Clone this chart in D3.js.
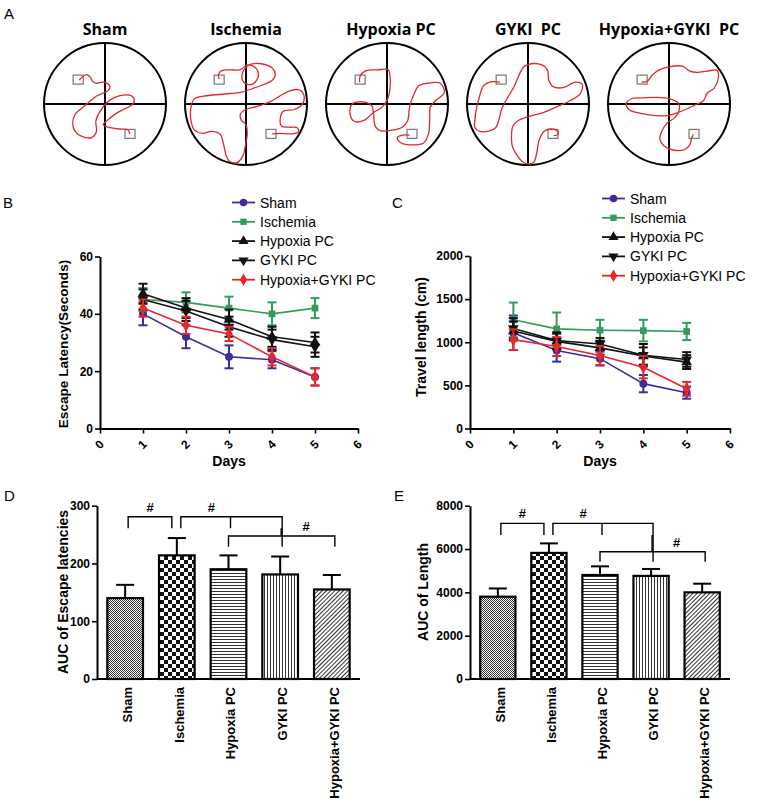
<!DOCTYPE html>
<html><head><meta charset="utf-8">
<script src="https://cdn.jsdelivr.net/npm/d3@7"></script>
<style>
body{margin:0;background:#fff}
text{font-family:"Liberation Sans",Arial,sans-serif;fill:#000}
</style>
</head><body><svg id="c" width="769" height="804"></svg>
<script>
// ---------------- DATA ----------------
const groups = ["Sham","Ischemia","Hypoxia PC","GYKI PC","Hypoxia+GYKI PC"];
const trackTitles = ["Sham","Ischemia","Hypoxia PC","GYKI  PC","Hypoxia+GYKI  PC"];
const days = [1,2,3,4,5];
const dayTicks = [0,1,2,3,4,5,6];
const latencyTicks = [0,20,40,60];
const lengthTicks = [0,500,1000,1500,2000];
const aucLatencyTicks = [0,100,200,300];
const aucLengthTicks = [0,2000,4000,6000,8000];

// Escape latency (s), mean per day, one row per group
const latencyMean = [
  [40,32,25,24,18],
  [45,44,42,40,42],
  [47,42,38,32,30],
  [45,41,35.5,31,28.5],
  [42,36,33,25,18]
];
const latencySem = [
  [4,4,4,3,3],
  [4,3.5,4,4,3.5],
  [3.5,3.5,3.5,3.5,3.5],
  [3.5,3.5,3.5,3.5,3.5],
  [3,3,2.5,3,3]
];
// Travel length (cm)
const lengthMean = [
  [1110,905,810,520,415],
  [1260,1155,1140,1135,1125],
  [1130,1010,935,840,770],
  [1160,1020,980,850,800],
  [1030,950,846,711,460]
];
const lengthSem = [
  [200,130,80,100,70],
  [200,190,120,125,100],
  [110,90,80,100,80],
  [120,95,70,130,85],
  [120,110,110,130,80]
];
// AUC bars
const aucLatency = [140,214,190,181,155];
const aucLatencySem = [23,30,24,31,25];
const aucLength = [3800,5820,4800,4760,4000];
const aucLengthSem = [380,440,400,320,400];
// significance brackets: [from, to, middle tick or -1]
const aucBrackets = [[0,1,-1],[1,3,2],[2,4,3]];
const latencyBracketLevels = [281,281,247.5];
const latencyBracketEnds = [261,261,229];
const lengthBracketLevels = [7185,7185,5877];
const lengthBracketEnds = [6646,6646,5415];

// Water maze swim paths (normalized pool coordinates, radius = 1)
const platformA = [-0.44,-0.40];
const platformB = [0.41,0.49];
const trackSham = [[-0.42,-0.39],[-0.38,-0.44],[-0.30,-0.48],[-0.25,-0.45],[-0.20,-0.37],[-0.14,-0.34],[-0.03,-0.36],[0.05,-0.33],[0.08,-0.29],[0.05,-0.22],[-0.03,-0.18],[-0.14,-0.13],[-0.25,-0.04],[-0.38,0.07],[-0.49,0.17],[-0.53,0.31],[-0.49,0.45],[-0.38,0.53],[-0.22,0.55],[-0.14,0.45],[-0.15,0.28],[-0.08,0.12],[0.03,-0.02],[0.16,-0.11],[0.33,-0.15],[0.44,-0.13],[0.48,-0.04],[0.42,0.03],[0.30,0.09],[0.16,0.17],[0.05,0.26],[-0.03,0.34],[0.05,0.38],[0.25,0.41],[0.37,0.42],[0.41,0.49]];
const trackIschemia = [[-0.44,-0.41],[-0.45,-0.49],[-0.39,-0.55],[-0.26,-0.56],[-0.10,-0.56],[0.03,-0.64],[0.17,-0.58],[0.20,-0.45],[0.10,-0.32],[-0.04,-0.36],[-0.06,-0.50],[0.05,-0.64],[0.25,-0.66],[0.43,-0.59],[0.48,-0.48],[0.43,-0.39],[0.29,-0.32],[0.10,-0.25],[-0.09,-0.19],[-0.39,-0.16],[-0.69,-0.13],[-0.85,-0.08],[-0.90,0.04],[-0.90,0.28],[-0.85,0.42],[-0.72,0.48],[-0.56,0.45],[-0.42,0.50],[-0.37,0.65],[-0.33,0.83],[-0.27,0.94],[-0.15,0.96],[-0.05,0.85],[-0.01,0.68],[0.02,0.49],[0,0.34],[-0.08,0.26],[-0.09,0.16],[-0.01,0.09],[0.18,0.04],[0.40,-0.04],[0.57,-0.14],[0.73,-0.22],[0.88,-0.23],[0.95,-0.14],[0.92,0.01],[0.79,0.09],[0.61,0.12],[0.56,0.25],[0.58,0.36],[0.70,0.38],[0.84,0.39],[0.86,0.46],[0.73,0.49],[0.56,0.48],[0.43,0.49]];
const trackHypoxia = [[-0.45,-0.36],[-0.44,-0.46],[-0.36,-0.54],[-0.16,-0.56],[0.02,-0.56],[0.05,-0.46],[0.05,-0.27],[0.01,-0.08],[-0.08,0.05],[-0.22,0.14],[-0.38,0.27],[-0.55,0.28],[-0.61,0.12],[-0.56,-0.01],[-0.36,-0.03],[-0.25,0.03],[-0.22,0.17],[-0.19,0.37],[-0.10,0.44],[0.08,0.43],[0.25,0.38],[0.34,0.27],[0.37,0.05],[0.44,-0.16],[0.52,-0.30],[0.66,-0.34],[0.87,-0.34],[0.94,-0.19],[0.79,-0.05],[0.71,0.05],[0.70,0.27],[0.68,0.49],[0.60,0.64],[0.38,0.67],[0.22,0.63],[0.17,0.55],[0.26,0.51],[0.37,0.51]];
const trackGyki = [[-0.46,-0.36],[-0.63,-0.36],[-0.73,-0.30],[-0.79,-0.14],[-0.84,0.05],[-0.87,0.25],[-0.87,0.39],[-0.79,0.45],[-0.63,0.44],[-0.53,0.39],[-0.48,0.27],[-0.43,0.08],[-0.33,-0.11],[-0.22,-0.30],[-0.14,-0.49],[-0.07,-0.61],[0.05,-0.66],[0.23,-0.64],[0.32,-0.56],[0.34,-0.39],[0.42,-0.28],[0.58,-0.27],[0.78,-0.36],[0.89,-0.32],[0.85,-0.16],[0.68,-0.05],[0.46,0.05],[0.25,0.14],[0,0.21],[-0.16,0.27],[-0.25,0.37],[-0.27,0.52],[-0.26,0.68],[-0.20,0.81],[-0.11,0.93],[-0.02,0.98],[0.09,0.96],[0.14,0.82],[0.18,0.60],[0.26,0.45],[0.37,0.41],[0.48,0.44],[0.49,0.50],[0.42,0.52]];
const trackHypoxiaGyki = [[-0.45,-0.36],[-0.36,-0.37],[-0.27,-0.48],[-0.16,-0.56],[0,-0.61],[0.22,-0.62],[0.34,-0.54],[0.46,-0.52],[0.63,-0.54],[0.79,-0.55],[0.81,-0.43],[0.74,-0.26],[0.63,-0.18],[0.56,-0.05],[0.44,0.01],[0.27,0.09],[0.12,0.15],[-0.03,0.19],[-0.22,0.19],[-0.48,0.15],[-0.66,0.09],[-0.70,-0.01],[-0.61,-0.09],[-0.45,-0.10],[-0.22,-0.11],[0,-0.09],[0.15,-0.02],[0.17,0.09],[0.10,0.22],[-0.03,0.31],[-0.12,0.45],[-0.15,0.58],[-0.08,0.69],[0.05,0.75],[0.25,0.75],[0.34,0.67],[0.37,0.56],[0.40,0.50]];
const tracks = [trackSham,trackIschemia,trackHypoxia,trackGyki,trackHypoxiaGyki];

// ---------------- STYLE ----------------
const seriesColors = ["#3a2e98","#339c5c","#111111","#111111","#e8262d"];
const seriesSymbols = [d3.symbolCircle,d3.symbolSquare,d3.symbolTriangle,d3.symbolTriangle,d3.symbolDiamond];
const seriesRotate = [0,0,0,180,0];
const fmt = d3.format("d");

const svg = d3.select("#c");
svg.append("rect").attr("width",769).attr("height",804).attr("fill","#fff");

function letter(t,x,y){
  svg.append("text").attr("x",x).attr("y",y).attr("font-size",15).text(t);
}
letter("A",4,19); letter("B",3,208); letter("C",392,208); letter("D",4,501); letter("E",394,501);

// ---------------- PANEL A ----------------
const centerX = d3.scalePoint().domain(groups).range([105,669]);
const poolR = 61, poolCy = 104;
groups.forEach((g,i)=>{
  const cx = centerX(g);
  const sx = d3.scaleLinear([-1,1],[cx-poolR,cx+poolR]);
  const sy = d3.scaleLinear([-1,1],[poolCy-poolR,poolCy+poolR]);
  const G = svg.append("g");
  G.append("text").attr("x",cx+ (i===2?4:0)).attr("y",34.5).attr("text-anchor","middle")
    .style("font-family","'Open Sans',sans-serif").attr("font-weight","bold").attr("font-size",16)
    .style("white-space","pre").attr("xml:space","preserve").text(trackTitles[i]);
  G.append("line").attr("x1",sx(-1)).attr("x2",sx(1)).attr("y1",sy(0)).attr("y2",sy(0)).attr("stroke","#000").attr("stroke-width",2);
  G.append("line").attr("x1",sx(0)).attr("x2",sx(0)).attr("y1",sy(-1)).attr("y2",sy(1)).attr("stroke","#000").attr("stroke-width",2);
  G.append("circle").attr("cx",sx(0)).attr("cy",sy(0)).attr("r",poolR).attr("fill","none").attr("stroke","#000").attr("stroke-width",2);
  [platformA,platformB].forEach(p=>{
    G.append("rect").attr("x",sx(p[0])-5).attr("y",sy(p[1])-4.5).attr("width",10).attr("height",9)
      .attr("fill","none").attr("stroke","#777").attr("stroke-width",1.2);
  });
  const line = d3.line().x(d=>sx(d[0])).y(d=>sy(d[1])).curve(d3.curveCatmullRom.alpha(0.5));
  G.append("path").attr("d",line(tracks[i])).attr("fill","none").attr("stroke","#e4262c").attr("stroke-width",1.3);
});

// ---------------- LINE CHARTS ----------------
function styleAxis(g){
  g.select(".domain").attr("stroke","#000").attr("stroke-width",2);
  g.selectAll(".tick line").attr("stroke","#000").attr("stroke-width",1.6);
  g.selectAll(".tick text").attr("font-weight","bold").attr("font-size",12).attr("fill","#000")
    .style("font-family","'Liberation Sans',Arial,sans-serif");
}
function lineChart(o){
  const x = d3.scaleLinear([0,6],o.xr);
  const y = d3.scaleLinear([0,o.ymax],o.yr);
  const ga = svg.append("g").attr("transform",`translate(${o.xr[0]},0)`)
    .call(d3.axisLeft(y).tickValues(o.yticks).tickFormat(fmt).tickSize(5).tickSizeOuter(0).tickPadding(2));
  styleAxis(ga);
  const gb = svg.append("g").attr("transform",`translate(0,${o.yr[0]})`)
    .call(d3.axisBottom(x).tickValues(dayTicks).tickFormat(fmt).tickSize(5).tickSizeOuter(0));
  styleAxis(gb);
  gb.selectAll(".tick text").attr("y",0).attr("dy",0).attr("dominant-baseline","central")
    .attr("text-anchor","middle").attr("transform","translate(-1,16) rotate(-45)");
  svg.append("text").attr("x",(o.xr[0]+o.xr[1])/2).attr("y",o.yr[0]+37).attr("text-anchor","middle")
    .attr("font-weight","bold").attr("font-size",14).text("Days");
  svg.append("text").attr("transform",`translate(${o.labelX},${o.labelY}) rotate(-90)`).attr("text-anchor","middle")
    .attr("font-weight","bold").attr("font-size",o.labelSize).text(o.ylabel);
  const line = d3.line().x((d,j)=>x(days[j])).y(d=>y(d));
  o.means.forEach((m,i)=>{
    const c = seriesColors[i];
    const G = svg.append("g");
    G.append("path").attr("d",line(m)).attr("fill","none").attr("stroke",c).attr("stroke-width",1.6);
    m.forEach((v,j)=>{
      const xx = x(days[j]), s = o.sems[i][j];
      G.append("line").attr("x1",xx).attr("x2",xx).attr("y1",y(v-s)).attr("y2",y(v+s)).attr("stroke",c).attr("stroke-width",2);
      [v-s,v+s].forEach(e=>G.append("line").attr("x1",xx-4.5).attr("x2",xx+4.5).attr("y1",y(e)).attr("y2",y(e)).attr("stroke",c).attr("stroke-width",2));
      G.append("path").attr("d",d3.symbol(seriesSymbols[i],i===1?45:50)())
        .attr("transform",`translate(${xx},${y(v)}) rotate(${seriesRotate[i]})`).attr("fill",c);
    });
  });
  // legend
  groups.forEach((g,i)=>{
    const yy = o.legY + i*19.3;
    const c = seriesColors[i];
    svg.append("line").attr("x1",o.legX).attr("x2",o.legX+23).attr("y1",yy).attr("y2",yy).attr("stroke",c).attr("stroke-width",1.8);
    svg.append("path").attr("d",d3.symbol(seriesSymbols[i],i===1?40:45)())
      .attr("transform",`translate(${o.legX+11.5},${yy}) rotate(${seriesRotate[i]})`).attr("fill",c);
    svg.append("text").attr("x",o.legX+28).attr("y",yy).attr("dy","0.36em").attr("font-size",14).text(g);
  });
}
lineChart({xr:[100,358],yr:[428.5,256.5],ymax:60,yticks:latencyTicks,means:latencyMean,sems:latencySem,
  ylabel:"Escape Latency(Seconds)",labelX:68,labelY:344,labelSize:13.6,legX:232,legY:202.5});
lineChart({xr:[470,730],yr:[428.5,256],ymax:2000,yticks:lengthTicks,means:lengthMean,sems:lengthSem,
  ylabel:"Travel length (cm)",labelX:426,labelY:337,labelSize:14,legX:602,legY:198.5});

// ---------------- BAR CHARTS ----------------
const defs = svg.append("defs");
function pat(id,w,h,draw){
  const p = defs.append("pattern").attr("id",id).attr("patternUnits","userSpaceOnUse").attr("width",w).attr("height",h);
  p.append("rect").attr("width",w).attr("height",h).attr("fill","#fff");
  draw(p); return p;
}
pat("pSham",2,2,p=>{p.append("rect").attr("width",1).attr("height",1).attr("fill","#333");p.append("rect").attr("x",1).attr("y",1).attr("width",1).attr("height",1).attr("fill","#333");});
pat("pIsch",8,8,p=>{p.append("rect").attr("width",4).attr("height",4).attr("fill","#111");p.append("rect").attr("x",4).attr("y",4).attr("width",4).attr("height",4).attr("fill","#111");});
pat("pHyp",3,3,p=>{p.append("rect").attr("y",0).attr("width",3).attr("height",1).attr("fill","#333");});
pat("pGyki",3,3,p=>{p.append("rect").attr("x",0).attr("width",1).attr("height",3).attr("fill","#333");});
pat("pHG",3,3,p=>{p.attr("patternTransform","rotate(45)");p.append("rect").attr("x",0).attr("width",1).attr("height",3).attr("fill","#333");});
const barFills = ["url(#pSham)","url(#pIsch)","url(#pHyp)","url(#pGyki)","url(#pHG)"];

function barChart(o){
  const x = d3.scaleBand().domain(groups).range(o.xr).paddingInner(0.31).paddingOuter(0.2);
  const y = d3.scaleLinear([0,o.ymax],[679,505.7]);
  const G = svg.append("g");
  o.vals.forEach((v,i)=>{
    const g = groups[i], cx = x(g)+x.bandwidth()/2, s = o.sems[i];
    G.append("line").attr("x1",cx).attr("x2",cx).attr("y1",y(v)).attr("y2",y(v+s)).attr("stroke","#000").attr("stroke-width",2);
    G.append("line").attr("x1",cx-9).attr("x2",cx+9).attr("y1",y(v+s)).attr("y2",y(v+s)).attr("stroke","#000").attr("stroke-width",2);
    G.append("rect").attr("x",x(g)).attr("y",y(v)).attr("width",x.bandwidth()).attr("height",y(0)-y(v))
      .attr("fill",barFills[i]).attr("stroke","#000").attr("stroke-width",2.2);
    svg.append("text").attr("transform",`translate(${cx+2},${y(0)+8}) rotate(-90)`).attr("dy","0.36em")
      .attr("text-anchor","end").attr("font-weight","bold").attr("font-size",13).text(g);
  });
  const ga = svg.append("g").attr("transform",`translate(${o.xr[0]},0)`)
    .call(d3.axisLeft(y).tickValues(o.yticks).tickFormat(fmt).tickSize(5).tickSizeOuter(0).tickPadding(2));
  styleAxis(ga);
  svg.append("line").attr("x1",o.xr[0]).attr("x2",o.xr[1]).attr("y1",y(0)).attr("y2",y(0)).attr("stroke","#000").attr("stroke-width",2);
  svg.append("text").attr("transform",`translate(${o.labelX},${o.labelY}) rotate(-90)`).attr("text-anchor","middle")
    .attr("font-weight","bold").attr("font-size",14).text(o.ylabel);
  // brackets
  const cxOf = i => x(groups[i])+x.bandwidth()/2;
  const B = svg.append("g").attr("stroke","#000").attr("stroke-width",1.4).attr("fill","none");
  const offs = [[3,-5],[4,2],[0,3]];
  aucBrackets.forEach((b,k)=>{
    const top = y(o.levels[k]), end = y(o.ends[k]);
    const x1 = cxOf(b[0])+offs[k][0], x2 = cxOf(b[1])+offs[k][1];
    const rightEnd = k===1 ? y(o.ends[2]) : end;
    B.append("path").attr("d",`M${x1},${end}V${top}H${x2}V${rightEnd}`);
    if(b[2]>=0) B.append("line").attr("x1",cxOf(b[2])+(k===1?2:1)).attr("x2",cxOf(b[2])+(k===1?2:1)).attr("y1",top).attr("y2",k===1?end:y(o.ends[1]));
    let hx = k===0 ? (x1+x2)/2 : k===1 ? cxOf(2)-0.33*x.step() : (cxOf(3)+cxOf(4))/2;
    svg.append("text").attr("x",hx).attr("y",top-5).attr("text-anchor","middle").attr("font-weight","bold").attr("font-size",13).text("#");
  });
}
barChart({xr:[97,360],ymax:300,yticks:aucLatencyTicks,vals:aucLatency,sems:aucLatencySem,
  ylabel:"AUC of Escape latencies",labelX:68,labelY:592,levels:latencyBracketLevels,ends:latencyBracketEnds});
barChart({xr:[470,730],ymax:8000,yticks:aucLengthTicks,vals:aucLength,sems:aucLengthSem,
  ylabel:"AUC of Length",labelX:428,labelY:592,levels:lengthBracketLevels,ends:lengthBracketEnds});
</script>
</body></html>
